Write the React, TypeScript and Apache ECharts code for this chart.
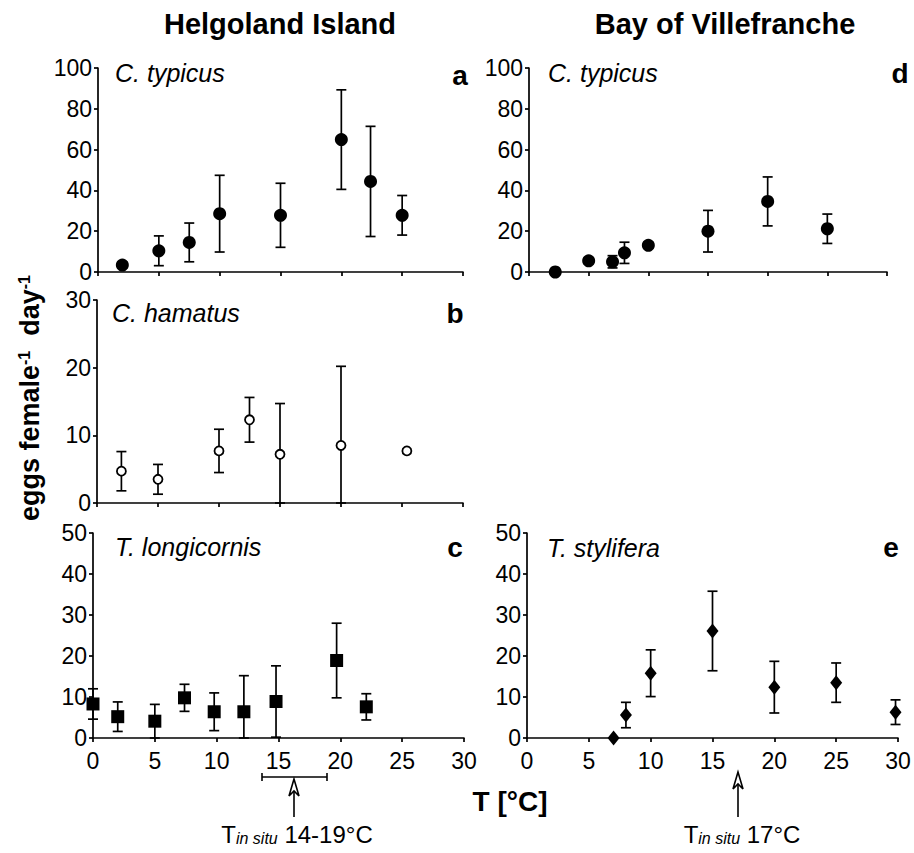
import React, { useEffect, useRef } from 'react';
import * as echarts from 'echarts';

const FONT = "'Liberation Sans', Arial, Helvetica, sans-serif";

// x axis (temperature, °C)
const xMin = 0;
const xMax = 30;
const xStep = 5;

// Panel a – C. typicus, Helgoland
const aTemp = [2, 5, 7.5, 10, 15, 20, 22.4, 25];
const aEggs = [3.4, 10.4, 14.5, 28.6, 27.8, 64.9, 44.4, 27.8];
const aSd = [1.5, 7.3, 9.5, 18.8, 15.7, 24.4, 27, 9.7];

// Panel b – C. hamatus, Helgoland
const bTemp = [2, 5, 10, 12.5, 15, 20, 25.4];
const bEggs = [4.7, 3.5, 7.7, 12.3, 7.2, 8.5, 7.7];
const bSd = [2.9, 2.2, 3.2, 3.3, 7.5, 11.7, 0];

// Panel c – T. longicornis, Helgoland
const cTemp = [0, 2, 5, 7.4, 9.8, 12.2, 14.8, 19.7, 22.1];
const cEggs = [8.3, 5.2, 4.1, 9.8, 6.4, 6.4, 8.9, 18.9, 7.6];
const cSd = [3.7, 3.6, 4.1, 3.3, 4.6, 8.8, 8.7, 9.1, 3.2];

// Panel d – C. typicus, Villefranche
const dTemp = [2.2, 5, 7, 8, 10, 15, 20, 25];
const dEggs = [0, 5.5, 5, 9.4, 13.1, 20, 34.6, 21.2];
const dSd = [0, 1.5, 3, 5.2, 1.5, 10.2, 12, 7.2];

// Panel e – T. stylifera, Villefranche
const eTemp = [7, 8, 10, 15, 20, 25, 29.8];
const eEggs = [0, 5.6, 15.8, 26.1, 12.4, 13.5, 6.3];
const eSd = [0, 3.1, 5.7, 9.7, 6.3, 4.8, 3];

// y axis ranges
const yMaxTop = 100;
const yStepTop = 20;
const yMaxB = 30;
const yMaxBottom = 50;
const yStepSmall = 10;

const panels = [
  { grid: { left: 98, top: 68, width: 365, height: 204 }, temps: aTemp, eggs: aEggs, sd: aSd, yMax: yMaxTop, yStep: yStepTop, xLabels: false, symbol: 'circle', size: 13, hollow: false },
  { grid: { left: 97, top: 300, width: 366, height: 203 }, temps: bTemp, eggs: bEggs, sd: bSd, yMax: yMaxB, yStep: yStepSmall, xLabels: false, symbol: 'circle', size: 9, hollow: true },
  { grid: { left: 93, top: 533, width: 371, height: 205 }, temps: cTemp, eggs: cEggs, sd: cSd, yMax: yMaxBottom, yStep: yStepSmall, xLabels: true, symbol: 'rect', size: 13, hollow: false },
  { grid: { left: 529, top: 68, width: 358, height: 204 }, temps: dTemp, eggs: dEggs, sd: dSd, yMax: yMaxTop, yStep: yStepTop, xLabels: false, symbol: 'circle', size: 13, hollow: false },
  { grid: { left: 527, top: 533, width: 371, height: 205 }, temps: eTemp, eggs: eEggs, sd: eSd, yMax: yMaxBottom, yStep: yStepSmall, xLabels: true, symbol: 'diamond', size: [12, 15], hollow: false },
];

const lineStyle = { color: '#000', width: 1.7 };

function txt(x: number, y: number, text: string, fontSize: number, opts: any = {}) {
  return {
    type: 'text',
    x,
    y,
    silent: true,
    style: {
      text,
      fill: '#000',
      fontFamily: FONT,
      fontSize,
      fontWeight: opts.bold ? 'bold' : 'normal',
      fontStyle: opts.italic ? 'italic' : 'normal',
      align: opts.align || 'left',
      verticalAlign: 'middle',
      textAlign: opts.align || 'left',
      textVerticalAlign: 'middle',
    },
  };
}

function richTxt(x: number, y: number, text: string, rich: any, rotation = 0) {
  return {
    type: 'text',
    x,
    y,
    rotation,
    silent: true,
    style: {
      text,
      rich,
      fill: '#000',
      fontFamily: FONT,
      align: 'center',
      verticalAlign: 'middle',
      textAlign: 'center',
      textVerticalAlign: 'middle',
    },
  };
}

function arrow(x: number, tipY: number, bottomY: number) {
  const s = { stroke: '#000', lineWidth: 1.6, fill: 'none' };
  return [
    { type: 'polygon', silent: true, shape: { points: [[x, tipY], [x - 5, tipY + 17], [x, tipY + 12], [x + 5, tipY + 17]] }, style: { ...s, fill: '#fff' } },
    { type: 'line', silent: true, shape: { x1: x, y1: tipY + 12, x2: x, y2: bottomY }, style: s },
  ];
}

export default function App() {
  const ref = useRef<HTMLDivElement>(null);

  useEffect(() => {
    if (!ref.current) return;
    const chart = echarts.init(ref.current, null, { renderer: 'svg' });

    const grids = panels.map((p) => ({ ...p.grid, containLabel: false }));
    const xAxes = panels.map((p, i) => ({
      type: 'value',
      gridIndex: i,
      min: xMin,
      max: xMax,
      interval: xStep,
      axisLine: { show: true, onZero: false, lineStyle },
      axisTick: { show: true, length: 4, lineStyle },
      axisLabel: { show: p.xLabels, fontSize: 23, color: '#000', fontFamily: FONT, margin: 11 },
      splitLine: { show: false },
    }));
    const yAxes = panels.map((p, i) => ({
      type: 'value',
      gridIndex: i,
      min: 0,
      max: p.yMax,
      interval: p.yStep,
      axisLine: { show: true, onZero: false, lineStyle },
      axisTick: { show: true, length: 4, lineStyle },
      axisLabel: { show: true, fontSize: 23, color: '#000', fontFamily: FONT, margin: 6 },
      splitLine: { show: false },
    }));

    const series: any[] = [];
    panels.forEach((p, i) => {
      const errData = p.temps
        .map((t, k) => [t, Math.max(0, p.eggs[k] - p.sd[k]), p.eggs[k] + p.sd[k], p.sd[k]])
        .filter((d) => d[3] > 0);
      series.push({
        type: 'custom',
        xAxisIndex: i,
        yAxisIndex: i,
        silent: true,
        z: 2,
        data: errData,
        renderItem: (_params: any, api: any) => {
          const x = api.value(0);
          const lo = api.coord([x, api.value(1)]);
          const hi = api.coord([x, api.value(2)]);
          const cw = 5;
          const st = { stroke: '#000', lineWidth: 1.7 };
          return {
            type: 'group',
            children: [
              { type: 'line', shape: { x1: lo[0], y1: lo[1], x2: hi[0], y2: hi[1] }, style: st },
              { type: 'line', shape: { x1: hi[0] - cw, y1: hi[1], x2: hi[0] + cw, y2: hi[1] }, style: st },
              { type: 'line', shape: { x1: lo[0] - cw, y1: lo[1], x2: lo[0] + cw, y2: lo[1] }, style: st },
            ],
          };
        },
      });
      series.push({
        type: 'scatter',
        xAxisIndex: i,
        yAxisIndex: i,
        silent: true,
        z: 3,
        symbol: p.symbol,
        symbolSize: p.size,
        itemStyle: p.hollow
          ? { color: '#fff', borderColor: '#000', borderWidth: 1.8, opacity: 1 }
          : { color: '#000', opacity: 1 },
        data: p.temps.map((t, k) => [t, p.eggs[k]]),
      });
    });

    const subRich = {
      t: { fontSize: 24, fontFamily: FONT, fill: '#000', verticalAlign: 'bottom' },
      i: { fontSize: 16, fontStyle: 'italic', fontFamily: FONT, fill: '#000', verticalAlign: 'bottom' },
    };

    const graphic: any[] = [
      txt(280, 24, 'Helgoland Island', 29, { bold: true, align: 'center' }),
      txt(725, 24, 'Bay of Villefranche', 29, { bold: true, align: 'center' }),
      txt(115, 73, 'C. typicus', 25, { italic: true }),
      txt(112, 313, 'C. hamatus', 25, { italic: true }),
      txt(115, 547, 'T. longicornis', 25, { italic: true }),
      txt(548, 73, 'C. typicus', 25, { italic: true }),
      txt(547, 548, 'T. stylifera', 25, { italic: true }),
      txt(460, 75, 'a', 28, { bold: true, align: 'center' }),
      txt(455, 313, 'b', 28, { bold: true, align: 'center' }),
      txt(455, 547, 'c', 28, { bold: true, align: 'center' }),
      txt(900, 73, 'd', 28, { bold: true, align: 'center' }),
      txt(891, 547, 'e', 28, { bold: true, align: 'center' }),
      txt(510, 801, 'T [°C]', 28, { bold: true, align: 'center' }),
      richTxt(30, 398, '{b|eggs female}{s|-1}{b|  day}{s|-1}', {
        b: { fontSize: 27, fontWeight: 'bold', fontFamily: FONT, fill: '#000' },
        s: { fontSize: 16, fontWeight: 'bold', fontFamily: FONT, fill: '#000', verticalAlign: 'top' },
      }, Math.PI / 2),
      richTxt(297, 834, '{t|T}{i|in situ}{t| 14-19°C}', subRich),
      richTxt(742, 834, '{t|T}{i|in situ}{t| 17°C}', subRich),
      { type: 'line', silent: true, shape: { x1: 262, y1: 777, x2: 327, y2: 777 }, style: { stroke: '#000', lineWidth: 1.6 } },
      { type: 'line', silent: true, shape: { x1: 262, y1: 773, x2: 262, y2: 781 }, style: { stroke: '#000', lineWidth: 1.6 } },
      { type: 'line', silent: true, shape: { x1: 327, y1: 773, x2: 327, y2: 781 }, style: { stroke: '#000', lineWidth: 1.6 } },
      ...arrow(294, 779, 817),
      ...arrow(738, 772, 817),
    ];

    chart.setOption({
      animation: false,
      backgroundColor: '#fff',
      grid: grids,
      xAxis: xAxes,
      yAxis: yAxes,
      series,
      graphic: { elements: graphic },
    });

    return () => chart.dispose();
  }, []);

  return <div ref={ref} style={{ position: 'fixed', left: 0, top: 0, width: 914, height: 853 }} />;
}
